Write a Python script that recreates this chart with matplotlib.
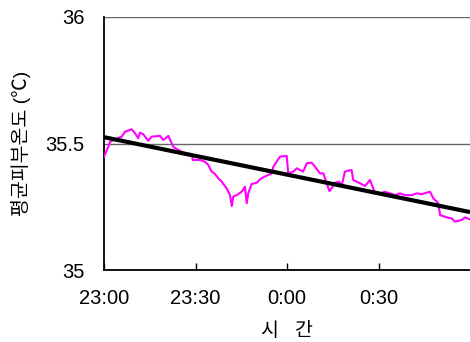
import numpy as np
import matplotlib.pyplot as plt

plt.rcParams['font.family'] = ['Liberation Sans', 'Noto Sans CJK KR', 'DejaVu Sans']

# minutes after 23:00 and mean skin temperature
minutes = [0, 1.4, 2.0, 3.6, 5.8, 6.9, 9.1, 10.2, 11.2, 11.8, 12.9, 14.5, 15.6, 18.4, 19.4,
           21.1, 22.7, 24.4, 26.0, 28.8, 29.1, 31.5, 33.1, 34.2, 35.3, 36.4, 37.5, 38.6,
           40.2, 41.3, 41.9, 42.4, 43.5, 45.1, 46.2, 46.8, 47.3, 48.4, 50.1, 51.1, 52.2,
           53.9, 55.0, 55.5, 56.6, 57.7, 59.9, 60.4, 62.1, 63.2, 65.3, 66.5, 68.1, 69.2,
           70.8, 71.9, 73.0, 73.9, 75.0, 75.7, 77.1, 77.9, 79.0, 80.1, 81.2, 81.7, 83.9,
           85.6, 87.2, 88.9, 90.5, 92.1, 93.8, 95.4, 97.0, 98.7, 100.9, 102.5, 104.2,
           105.8, 106.9, 108.0, 109.1, 109.6, 110.2, 111.2, 112.4, 114.0, 115.1, 117.3,
           118.4, 120]
temp = [35.448, 35.487, 35.507, 35.517, 35.527, 35.547, 35.556, 35.540, 35.521, 35.543,
        35.536, 35.511, 35.527, 35.530, 35.514, 35.530, 35.487, 35.474, 35.464, 35.455,
        35.435, 35.435, 35.428, 35.415, 35.389, 35.379, 35.362, 35.349, 35.323, 35.296,
        35.253, 35.290, 35.296, 35.309, 35.329, 35.264, 35.303, 35.340, 35.345, 35.358,
        35.366, 35.376, 35.382, 35.408, 35.428, 35.448, 35.451, 35.382, 35.389, 35.402,
        35.389, 35.422, 35.424, 35.408, 35.382, 35.382, 35.343, 35.312, 35.329, 35.345,
        35.349, 35.332, 35.389, 35.393, 35.395, 35.356, 35.343, 35.332, 35.356, 35.303,
        35.303, 35.309, 35.303, 35.296, 35.303, 35.296, 35.296, 35.303, 35.300, 35.306,
        35.309, 35.283, 35.270, 35.264, 35.217, 35.213, 35.208, 35.204, 35.191, 35.198,
        35.208, 35.200]

trend_x = [0, 120]
trend_y = [35.525, 35.229]

xticks = [0, 30, 60, 90]
xlabels = ['23:00', '23:30', '0:00', '0:30']
yticks = [35, 35.5, 36]
ylabels = ['35', '35.5', '36']

fig = plt.figure(figsize=(4.7, 3.42), dpi=100)
ax = fig.add_axes([0.2213, 0.2105, 0.7787, 0.7398])

ax.plot(minutes, temp, color='#ff00ff', lw=1.5, zorder=3)
ax.plot(trend_x, trend_y, color='black', lw=3, zorder=4, solid_capstyle='butt')

ax.set_xlim(0, 120)
ax.set_ylim(35, 36)
ax.set_xticks(xticks)
ax.set_xticklabels(xlabels, fontsize=14.5)
ax.set_yticks(yticks)
ax.set_yticklabels(ylabels, fontsize=14.5)
ax.tick_params(axis='x', direction='in', length=5, width=1, pad=14)
ax.tick_params(axis='y', length=0, pad=14)
ax.grid(axis='y', color='#666666', lw=1)
ax.set_axisbelow(True)

for s in ['top', 'right']:
    ax.spines[s].set_visible(False)
ax.spines['left'].set_linewidth(1.3)
ax.spines['bottom'].set_linewidth(1.3)

ax.set_xlabel('시   간', fontsize=14, labelpad=10)
ax.set_ylabel('평균피부온도 (℃)', fontsize=14)
ax.yaxis.set_label_coords(-0.2, 0.5)

fig.savefig('out.png', dpi=100)
